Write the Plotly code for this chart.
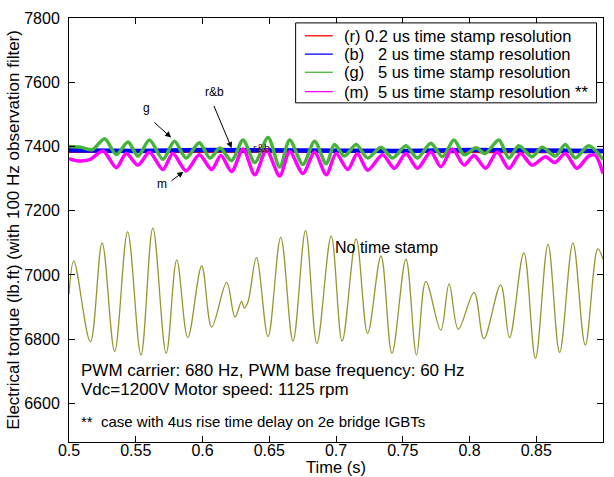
import plotly.graph_objects as go

# ---------------- data ----------------
# No time stamp (olive) - extremes of the oscillation
t_nots = [0.5000, 0.5036, 0.5160, 0.5248, 0.5342, 0.5439, 0.5539, 0.5628, 0.5728, 0.5807,
          0.5890, 0.5994, 0.6069, 0.6181, 0.6243, 0.6293, 0.6312, 0.6340, 0.6404, 0.6491,
          0.6586, 0.6678, 0.6772, 0.6857, 0.6964, 0.7046, 0.7151, 0.7237, 0.7337, 0.7419,
          0.7524, 0.7603, 0.7673, 0.7785, 0.7847, 0.7916, 0.8034, 0.8108, 0.8233, 0.8300,
          0.8407, 0.8494, 0.8588, 0.8675, 0.8775, 0.8867, 0.8961, 0.9000]
v_nots = [6941, 7044, 6792, 7100, 6762, 7134, 6751, 7146, 6756, 7047,
          6805, 7028, 6838, 6977, 6869, 6918, 6897, 6915, 7054, 6808,
          7117, 6794, 7138, 6787, 7121, 6794, 7112, 6818, 7059, 6756,
          7049, 6751, 6980, 6828, 6972, 6831, 6946, 6802, 6969, 6805,
          7069, 6741, 7095, 6759, 7100, 6782, 7081, 7049]

# 0.2 us (red) and 2 us (blue)
t_rb = [0.50, 0.55, 0.60, 0.65, 0.70, 0.75, 0.80, 0.85, 0.90]
v_red = [7386, 7385, 7387, 7386, 7386, 7385, 7387, 7386, 7385]
v_blue = [7388, 7386, 7389, 7387, 7388, 7386, 7389, 7387, 7386]

# 5 us (green)
t_g = [0.5000, 0.5086, 0.5175, 0.5267, 0.5354, 0.5442, 0.5516, 0.5603, 0.5703, 0.5790,
       0.5877, 0.5976, 0.6056, 0.6131, 0.6218, 0.6304, 0.6392, 0.6491, 0.6578, 0.6653,
       0.6752, 0.6840, 0.6927, 0.6989, 0.7063, 0.7151, 0.7237, 0.7337, 0.7424, 0.7524,
       0.7610, 0.7710, 0.7797, 0.7884, 0.7959, 0.8049, 0.8116, 0.8220, 0.8295, 0.8369,
       0.8469, 0.8543, 0.8643, 0.8718, 0.8793, 0.8892, 0.9000]
v_g = [7400, 7398, 7390, 7424, 7375, 7414, 7370, 7420, 7360, 7416,
       7364, 7412, 7364, 7395, 7356, 7420, 7350, 7428, 7336, 7420,
       7344, 7416, 7346, 7406, 7370, 7406, 7364, 7398, 7364, 7402,
       7364, 7410, 7368, 7420, 7374, 7396, 7378, 7420, 7364, 7402,
       7368, 7398, 7370, 7406, 7364, 7402, 7360]

# 5 us ** (magenta)
t_m = [0.5000, 0.5071, 0.5160, 0.5255, 0.5354, 0.5429, 0.5516, 0.5603, 0.5703, 0.5778,
       0.5877, 0.5976, 0.6069, 0.6138, 0.6218, 0.6304, 0.6392, 0.6479, 0.6578, 0.6653,
       0.6752, 0.6840, 0.6927, 0.7001, 0.7088, 0.7160, 0.7237, 0.7349, 0.7437, 0.7524,
       0.7610, 0.7710, 0.7785, 0.7872, 0.7959, 0.8034, 0.8121, 0.8207, 0.8295, 0.8382,
       0.8469, 0.8569, 0.8638, 0.8718, 0.8804, 0.8892, 0.8942, 0.9000]
v_m = [7362, 7355, 7360, 7386, 7334, 7378, 7342, 7382, 7328, 7378,
       7324, 7374, 7328, 7372, 7322, 7392, 7312, 7388, 7308, 7384,
       7316, 7382, 7312, 7378, 7328, 7378, 7326, 7374, 7332, 7378,
       7332, 7383, 7337, 7392, 7342, 7372, 7332, 7383, 7332, 7378,
       7342, 7368, 7350, 7378, 7332, 7370, 7373, 7316]

legend_names = ["(r) 0.2 us time stamp resolution",
                "(b)\u00a0\u00a0\u00a02 us time stamp resolution",
                "(g)\u00a0\u00a0\u00a05 us time stamp resolution",
                "(m)\u00a0\u00a05 us time stamp resolution **"]
legend_colors = ["#ff0000", "#0000ff", "rgb(70,180,60)", "#ff00ff"]

x_ticks = [0.5, 0.55, 0.6, 0.65, 0.7, 0.75, 0.8, 0.85, 0.9]
x_ticktext = ["0.5", "0.55", "0.6", "0.65", "0.7", "0.75", "0.8", "0.85", "0.9"]
y_ticks = [6600, 6800, 7000, 7200, 7400, 7600, 7800]

FONT = "Liberation Sans, Arial, sans-serif"

fig = go.Figure()
fig.add_trace(go.Scatter(x=t_nots, y=v_nots, mode="lines", name="No time stamp",
                         line=dict(color="rgb(150,150,50)", width=1.3, shape="spline", smoothing=1.0)))
fig.add_trace(go.Scatter(x=t_rb, y=v_red, mode="lines", name=legend_names[0],
                         line=dict(color=legend_colors[0], width=4)))
fig.add_trace(go.Scatter(x=t_rb, y=v_blue, mode="lines", name=legend_names[1],
                         line=dict(color=legend_colors[1], width=4.5)))
fig.add_trace(go.Scatter(x=t_g, y=v_g, mode="lines", name=legend_names[2],
                         line=dict(color=legend_colors[2], width=3.5, shape="spline", smoothing=0.8)))
fig.add_trace(go.Scatter(x=t_m, y=v_m, mode="lines", name=legend_names[3],
                         line=dict(color=legend_colors[3], width=3.5, shape="spline", smoothing=0.8)))

ann = []
shapes = []

def txt(x, y, s, size, xanchor="left", color="black"):
    ann.append(dict(x=x, y=y, xref="x", yref="y", text=s, showarrow=False,
                    xanchor=xanchor, yanchor="middle", font=dict(size=size, color=color, family=FONT)))

def arrow(x, y, ax, ay):
    ann.append(dict(x=x, y=y, ax=ax, ay=ay, xref="x", yref="y", axref="x", ayref="y",
                    text="", showarrow=True, arrowhead=2, arrowsize=1.2, arrowwidth=1,
                    arrowcolor="black"))

txt(0.5578, 7521, "g", 12, "center")
arrow(0.5765, 7428, 0.5628, 7479)
txt(0.6093, 7570, "r&amp;b", 12, "center")
arrow(0.6218, 7395, 0.6081, 7531)
txt(0.5696, 7282, "m", 12, "center")
arrow(0.5857, 7321, 0.5757, 7290)
txt(0.6442, 7395, "r&amp;b", 11, "center", "rgb(60,20,40)")
txt(0.6974, 7085, "No time stamp", 16)
txt(0.5078, 6703, "PWM carrier: 680 Hz, PWM base frequency: 60 Hz", 17)
txt(0.5078, 6645, "Vdc=1200V Motor speed: 1125 rpm", 17)
txt(0.5078, 6543, "**\u00a0\u00a0case with 4us rise time delay on 2e bridge IGBTs", 15)

# axis titles
ann.append(dict(x=-0.1054, y=0.5, xref="paper", yref="paper", showarrow=False,
                text="Electrical torque (lb.ft) (with 100 Hz observation filter)", textangle=-90,
                xanchor="center", yanchor="middle", font=dict(size=17, color="black", family=FONT)))
ann.append(dict(x=0.5, y=-0.0595, xref="paper", yref="paper", showarrow=False, borderpad=0,
                text="Time (s)", xanchor="center", yanchor="middle",
                font=dict(size=16.5, color="black", family=FONT)))

# legend box (MATLAB style), drawn in paper coordinates
shapes.append(dict(type="rect", xref="paper", yref="paper", x0=0.4244, x1=0.9879, y0=0.7999, y1=0.9884,
                   line=dict(color="black", width=1), fillcolor="white", layer="above"))
row_y = [0.9581, 0.9148, 0.8720, 0.8264]
for name, col, yy in zip(legend_names, legend_colors, row_y):
    shapes.append(dict(type="line", xref="paper", yref="paper", x0=0.4417, x1=0.4940, y0=yy, y1=yy,
                       line=dict(color=col, width=1.3), layer="above"))
    ann.append(dict(x=0.5103, y=yy, xref="paper", yref="paper", text=name, showarrow=False,
                    xanchor="left", yanchor="middle", font=dict(size=16.5, color="black", family=FONT)))

fig.update_layout(
    width=614, height=477,
    margin=dict(l=68.5, r=9.5, t=12, b=35.3),
    paper_bgcolor="white", plot_bgcolor="white",
    font=dict(family=FONT, size=16, color="black"),
    showlegend=False,
    annotations=ann, shapes=shapes,
    xaxis=dict(range=[0.5, 0.9], tickvals=x_ticks, ticktext=x_ticktext,
               ticks="inside", ticklen=6, tickcolor="black", showline=True, linecolor="black",
               linewidth=1, mirror="ticks", showgrid=False, zeroline=False,
               tickfont=dict(size=16), ticklabelstandoff=-6),
    yaxis=dict(range=[6480, 7800], tickvals=y_ticks,
               ticks="inside", ticklen=6, tickcolor="black", showline=True, linecolor="black",
               linewidth=1, mirror="ticks", showgrid=False, zeroline=False,
               tickfont=dict(size=16), ticklabelstandoff=5),
)

fig.write_html("out.html", config={"displayModeBar": False},
               post_script="document.body.style.margin='0px';")
